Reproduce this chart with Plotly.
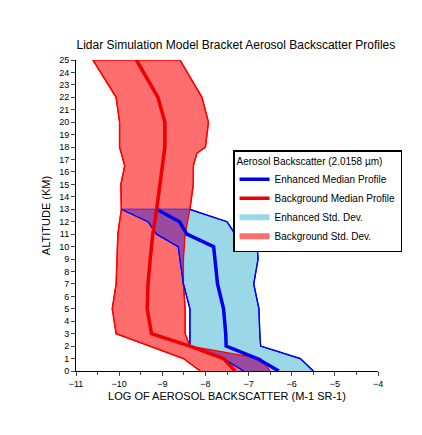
import numpy as np
import plotly.graph_objects as go

bg_alt = [0, 1, 2, 3, 5, 7, 9, 11, 13, 15, 16.5, 17.5, 18, 20, 22, 25]
bg_left = [-8.12, -8.51, -9.29, -10.07, -10.16, -10.07, -10.05, -10.03, -9.95, -9.96, -9.87, -9.95, -9.99, -9.99, -10.07, -10.61]
bg_right = [-6.5, -6.72, -8.36, -8.47, -8.47, -8.51, -8.51, -8.47, -8.36, -8.28, -8.28, -8.2, -8.0, -7.93, -8.08, -8.59]
bg_med = [-7.31, -7.58, -8.36, -9.25, -9.35, -9.33, -9.28, -9.22, -9.13, -9.05, -8.98, -8.95, -8.94, -8.94, -9.1, -9.6]

en_alt = [0, 1, 2, 3, 5, 7, 9, 10, 11, 12, 13]
en_left = [-7.11, -7.58, -8.36, -8.36, -8.36, -8.51, -8.58, -8.63, -9.13, -9.33, -9.95]
en_med = [-6.30, -6.8, -7.52, -7.53, -7.58, -7.72, -7.78, -7.81, -8.43, -8.6, -9.13]
en_right = [-5.50, -5.8, -6.72, -6.74, -6.76, -6.88, -6.78, -6.80, -7.31, -7.5, -8.36]

RED_FILL = "#FF6E6E"
CYAN_FILL = "#9AD8E8"
PURPLE = "#9B4A9E"

fig = go.Figure()

def band(left, right, alt, fill, line):
    fig.add_trace(go.Scatter(x=list(left) + list(right)[::-1], y=list(alt) + list(alt)[::-1],
                             fill="toself", fillcolor=fill, mode="lines",
                             line=dict(color=line, width=1.3), showlegend=False, hoverinfo="skip"))

band(bg_left, bg_right, bg_alt, RED_FILL, "red")
band(en_left, en_right, en_alt, CYAN_FILL, "blue")

# overlap region
g = np.arange(0, 13.0001, 0.02)
lo = np.maximum(np.interp(g, bg_alt, bg_left), np.interp(g, en_alt, en_left))
hi = np.minimum(np.interp(g, bg_alt, bg_right), np.interp(g, en_alt, en_right))
m = hi > lo
xs, ys = [], []
seg_x_l, seg_x_r, seg_y = [], [], []
for i in range(len(g)):
    if m[i]:
        seg_x_l.append(lo[i]); seg_x_r.append(hi[i]); seg_y.append(g[i])
    elif seg_y:
        xs += seg_x_l + seg_x_r[::-1] + [None]; ys += seg_y + seg_y[::-1] + [None]
        seg_x_l, seg_x_r, seg_y = [], [], []
if seg_y:
    xs += seg_x_l + seg_x_r[::-1]; ys += seg_y + seg_y[::-1]
fig.add_trace(go.Scatter(x=xs, y=ys, fill="toself", fillcolor=PURPLE, mode="lines",
                         line=dict(width=0), showlegend=False, hoverinfo="skip"))

for x, a, c in [(bg_left, bg_alt, "red"), (bg_right, bg_alt, "red"),
                (en_left, en_alt, "blue"), (en_right, en_alt, "blue")]:
    fig.add_trace(go.Scatter(x=x, y=a, mode="lines", line=dict(color=c, width=1.3),
                             showlegend=False, hoverinfo="skip"))

fig.add_trace(go.Scatter(x=en_med, y=en_alt, mode="lines", line=dict(color="#0000EE", width=3.5),
                         name="Enhanced Median Profile"))
fig.add_trace(go.Scatter(x=bg_med, y=bg_alt, mode="lines", line=dict(color="#EE0000", width=3.5),
                         name="Background Median Profile"))
fig.add_trace(go.Scatter(x=[None], y=[None], mode="lines", line=dict(color=CYAN_FILL, width=6),
                         name="Enhanced Std. Dev."))
fig.add_trace(go.Scatter(x=[None], y=[None], mode="lines", line=dict(color=RED_FILL, width=6),
                         name="Background Std. Dev."))

fig.update_layout(
    width=422, height=435, paper_bgcolor="white", plot_bgcolor="white",
    margin=dict(l=68, r=52, t=52, b=72, autoexpand=False),
    font=dict(family="Liberation Sans, Arial", size=9, color="black"),
    title=dict(text="Lidar Simulation Model Bracket Aerosol Backscatter Profiles",
               x=0.54, xanchor="center", y=0.915, yanchor="middle", font=dict(size=12)),
    xaxis=dict(range=[-11, -4], dtick=1, ticks="outside", ticklen=4, showgrid=False, zeroline=False,
               showline=True, linecolor="black", linewidth=1, automargin=False,
               minor=dict(dtick=0.5, ticks="outside", ticklen=3),
               title=dict(text="LOG OF AEROSOL BACKSCATTER (M-1 SR-1)", font=dict(size=11), standoff=4)),
    yaxis=dict(range=[0, 25], dtick=1, ticks="outside", ticklen=4, showgrid=False, zeroline=False,
               showline=True, linecolor="black", linewidth=1, automargin=False,
               title=dict(text="ALTITUDE (KM)", font=dict(size=11), standoff=6)),
    legend=dict(x=0.52, y=0.71, xanchor="left", yanchor="top", bgcolor="white",
                bordercolor="black", borderwidth=1.5, font=dict(size=10), tracegroupgap=0,
                title=dict(text="Aerosol Backscatter (2.0158 µm)", font=dict(size=10)),
                itemwidth=30),
)
fig.write_html("out.html")
